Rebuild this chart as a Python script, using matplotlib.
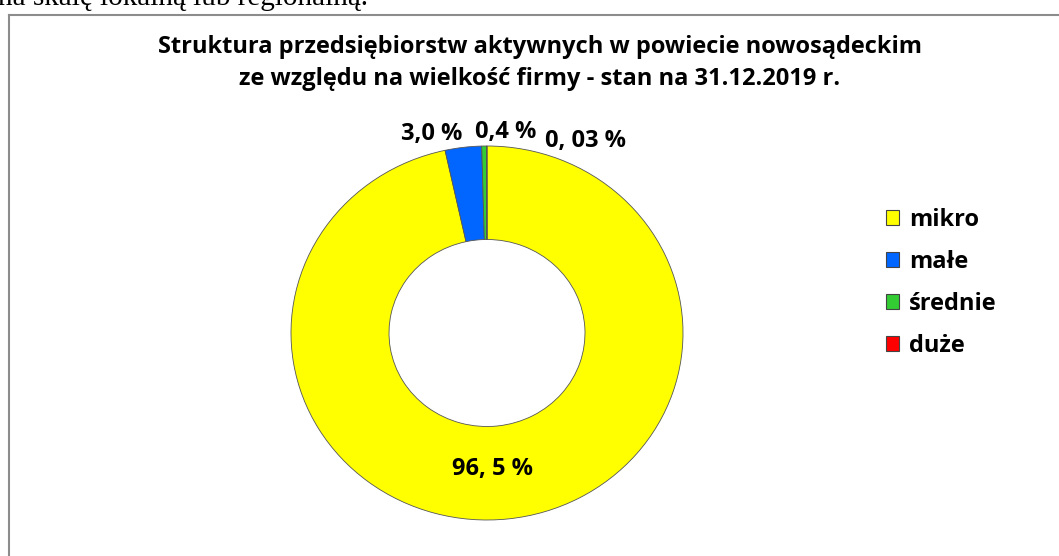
import matplotlib.pyplot as plt
from matplotlib.patches import Patch
from matplotlib.lines import Line2D

# data
categories = ['mikro', 'małe', 'średnie', 'duże']
shares = [96.5, 3.0, 0.4, 0.03]
value_labels = ['96, 5 %', '3,0 %', '0,4 %', '0, 03 %']
colors = ['#FFFF00', '#0066FF', '#33CC33', '#FF0000']
# label baseline points in pie coordinates (radius = 1)
label_pos = [(0.026, -0.759), (-0.28, 1.032), (0.097, 1.043), (0.505, 0.995)]

title = ('Struktura przedsiębiorstw aktywnych w powiecie nowosądeckim\n'
         'ze względu na wielkość firmy - stan na 31.12.2019 r.')
page_text = 'na skalę lokalną lub regionalną.'

W, H = 1059, 556
fig = plt.figure(figsize=(W / 100, H / 100), dpi=100)
fig.patch.set_facecolor('white')

# bit of page text cut at the top
fig.text(-0.002, 1 - 5 / H, page_text, family='Liberation Serif', fontsize=21,
         ha='left', va='baseline', color='black')

# chart frame (only left and top visible)
fig.add_artist(Line2D([8.5 / W, 8.5 / W], [0, 1 - 14.5 / H], color='#8c8c8c', lw=1.5))
fig.add_artist(Line2D([8.5 / W, 1], [1 - 14.5 / H, 1 - 14.5 / H], color='#8c8c8c', lw=1.5))

fig.text(540 / W, 1 - 63 / H, title, family='Open Sans', weight='bold', fontsize=17,
         ha='center', va='center', linespacing=1.45)

# donut
cx, cy, rx, ry = 487, 333, 196, 187
m = 1.05
ax = fig.add_axes([(cx - rx * m) / W, (H - cy - ry * m) / H, 2 * rx * m / W, 2 * ry * m / H])
ax.pie(shares, colors=colors, startangle=90, counterclock=False, normalize=True,
       wedgeprops=dict(width=0.5, edgecolor='#555555', linewidth=0.6))
ax.set_aspect('auto')
ax.set_xlim(-m, m)
ax.set_ylim(-m, m)
ax.axis('off')

for (x, y), lab in zip(label_pos, value_labels):
    ax.text(x, y, lab, family='Open Sans', weight='bold', fontsize=17,
            ha='center', va='baseline', clip_on=False)

handles = [Patch(facecolor=c, edgecolor='#444444', linewidth=0.8) for c in colors]
fig.legend(handles, categories, loc='upper left', bbox_to_anchor=(886 / W, 1 - 208 / H),
           frameon=False, prop=dict(family='Open Sans', weight='bold', size=17),
           handlelength=0.56, handleheight=0.56, handletextpad=0.42,
           labelspacing=0.76, borderpad=0, borderaxespad=0)

fig.savefig('out.png', dpi=100)
